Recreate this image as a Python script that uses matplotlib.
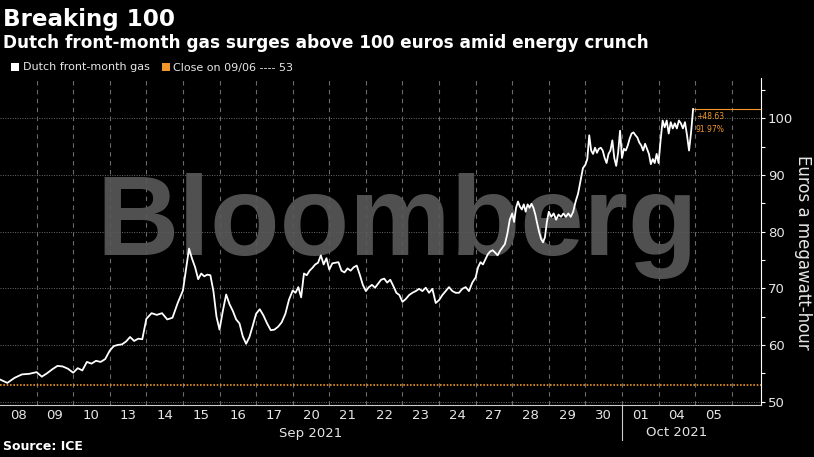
import matplotlib
matplotlib.use('Agg')
import matplotlib.pyplot as plt
import matplotlib.transforms as mtransforms
from matplotlib.patches import Patch
from matplotlib.ticker import MultipleLocator

W, H, DPI = 814, 457, 100

ORANGE = '#f0962a'
GRID = '#6a6a6a'
TXT = '#e6e6e6'

title = 'Breaking 100'
subtitle = 'Dutch front-month gas surges above 100 euros amid energy crunch'
source = 'Source: ICE'
series_name = 'Dutch front-month gas'
y_label = 'Euros a megawatt-hour'

day_labels = ['08', '09', '10', '13', '14', '15', '16', '17', '20', '21',
              '22', '23', '24', '27', '28', '29', '30', '01', '04', '05']
month_labels = ['Sep 2021', 'Oct 2021']
month_start = [0, 17]     # index of first trading day of each month
month_end = [17, 20]

prev_close = 53
prev_close_date = '09/06'
change_abs = '+48.63'
change_pct = '91.97%'

# intraday prices, one list per trading day (euros/MWh)
prices = [
    [53.9, 53.3, 54.2, 54.8, 54.9],
    [55.2, 54.4, 55.0, 55.7, 56.3, 56.2, 55.8],
    [55.1, 55.9, 55.5, 57.0, 56.7, 57.2, 57.0, 57.5],
    [59.0, 59.8, 60.0, 60.1, 60.6, 61.4, 60.7, 61.1, 61.0],
    [64.6, 65.6, 65.3, 65.6, 64.5, 64.8, 67.4],
    [69.6, 73.3, 77.0, 75.2, 73.7, 71.6, 72.6, 72.1, 72.4, 72.3, 69.5, 65.0],
    [62.7, 66.0, 68.9, 67.2, 66.0, 64.5, 63.8, 61.5, 60.2, 61.4, 63.4],
    [65.5, 66.3, 65.2, 63.8, 62.6, 62.7, 63.2, 64.0, 65.5, 68.0],
    [69.6, 69.2, 70.2, 68.4, 72.6, 72.3, 73.1, 73.6, 74.2, 74.5, 75.8, 74.2, 75.3],
    [73.3, 74.4, 74.5, 74.6, 73.1, 72.8, 73.5, 73.1, 73.7, 74.0, 72.4, 70.6],
    [69.5, 70.2, 70.6, 70.1, 70.8, 71.5, 71.7, 71.0, 71.5, 70.4, 69.2, 68.8],
    [67.6, 68.1, 68.8, 69.2, 69.5, 69.9, 69.5, 70.1, 69.2, 69.9, 67.4],
    [67.9, 68.8, 69.5, 70.2, 69.5, 69.2, 69.2, 69.9, 70.2, 69.5, 71.0],
    [71.9, 73.7, 74.6, 74.2, 75.1, 76.0, 76.5, 76.7, 76.3, 75.8, 76.6, 77.2,
     77.8, 79.6, 82.1],
    [83.2, 81.7, 84.2, 85.3, 84.4, 83.9, 84.8, 83.5, 84.8, 84.2, 84.9, 84.2,
     83.0, 81.4, 79.9, 78.7, 78.1, 79.0, 81.7],
    [83.5, 82.6, 83.2, 82.1, 83.0, 82.6, 83.2, 82.6, 83.2, 82.6, 83.5, 85.3,
     86.7, 88.9, 91.2],
    [91.8, 92.8, 97.0, 94.3, 93.7, 94.8, 93.9, 94.6, 94.8, 94.3, 93.0, 92.1,
     93.7, 94.3, 96.1, 93.0, 91.6, 93.9, 97.8],
    [93.0, 94.6, 94.3, 95.2, 96.4, 97.3, 97.5, 97.0, 96.6, 95.7, 95.2, 94.3,
     95.5, 94.6, 93.7, 91.9, 92.8, 92.1, 93.7],
    [92.1, 96.1, 99.6, 98.4, 99.6, 97.3, 99.3, 98.2, 99.1, 98.2, 99.6, 99.1,
     98.2, 99.3, 97.0, 94.3, 97.5, 101.63],
]

# place each day's observations evenly across its session
t, p = [], []
for i, day in enumerate(prices):
    for k, v in enumerate(day):
        t.append(i + k / len(day))
        p.append(v)

fig = plt.figure(figsize=(W / DPI, H / DPI), dpi=DPI, facecolor='black')
ax = fig.add_axes([0, 52 / H, 761 / W, 327 / H], facecolor='black')

XMAX = 20.8
ax.set_xlim(0, XMAX)
ax.set_ylim(49.4, 107.1)

# watermark: over the grid, under the price line
ax.text(397 / W, 1 - 255 / H, 'Bloomberg', color='#585858', alpha=0.92,
        fontsize=82, fontweight='bold', family='Liberation Sans',
        ha='center', va='baseline', transform=fig.transFigure, zorder=1.5)

# grid
for yv in range(50, 101, 10):
    ax.axhline(yv, color=GRID, lw=0.7, ls=(0, (1, 1.5)), zorder=1)
for xv in range(1, len(day_labels) + 1):
    ax.axvline(xv, color=GRID, lw=0.8, ls=(0, (4, 4)), zorder=1)

# previous close reference
ax.axhline(prev_close, color=ORANGE, lw=1.2, ls=(0, (1, 1)), zorder=2)

ax.plot(t, p, color='white', lw=1.3, zorder=4)

# last value marker line + change annotation
ax.axhline(p[-1], xmin=t[-1] / XMAX, xmax=1, color=ORANGE, lw=0.8, zorder=3)
ax.annotate(change_abs, xy=(t[-1], p[-1]), xytext=(2, -2.5),
            textcoords='offset points', color=ORANGE, fontsize=5.5,
            ha='left', va='top', zorder=5)
ax.annotate(change_pct, xy=(t[-1], p[-1]), xytext=(2, -11.5),
            textcoords='offset points', color=ORANGE, fontsize=5.5,
            ha='left', va='top', zorder=5)

# axes styling
for s in ['left', 'top']:
    ax.spines[s].set_visible(False)
ax.spines['right'].set_color('white')
ax.spines['bottom'].set_color('#cccccc')

ax.yaxis.tick_right()
ax.yaxis.set_major_locator(MultipleLocator(10))
ax.yaxis.set_minor_locator(MultipleLocator(5))
ax.tick_params(axis='y', which='both', colors='white', labelcolor=TXT,
               labelsize=9.5, length=3, width=0.8, pad=2)

ax.set_xticks([i + 0.5 for i in range(len(day_labels))])
ax.set_xticklabels(day_labels)
ax.tick_params(axis='x', length=0, labelcolor=TXT, labelsize=9.5, pad=3)

trans = mtransforms.blended_transform_factory(ax.transData, ax.transAxes)
for lab, a, b in zip(month_labels, month_start, month_end):
    ax.text((a + b) / 2, -28 / 327, lab, transform=trans, color=TXT,
            fontsize=9.5, ha='center', va='center')
for a in month_start[1:]:
    ax.plot([a, a], [0, -35 / 327], transform=trans, color='#cccccc',
            lw=0.8, clip_on=False)

fig.text(803 / W, 1 - 252 / H, y_label, color=TXT, fontsize=12,
         rotation=270, ha='center', va='center')

# titles
fig.text(3 / W, 1 - 26 / H, title, color='white', fontsize=16.6,
         fontweight='bold', va='baseline')
fig.text(3 / W, 1 - 48 / H, subtitle, color='white', fontsize=12.2,
         fontweight='bold', va='baseline')
fig.text(3 / W, 1 - 447 / H, source, color='white', fontsize=9,
         fontweight='bold', va='center')

# legend
handles = [Patch(facecolor='white', edgecolor='none'),
           Patch(facecolor=ORANGE, edgecolor='none')]
labels = [series_name, f'Close on {prev_close_date} ---- {prev_close}']
fig.legend(handles, labels, loc='center left',
           bbox_to_anchor=(11 / W, 1 - 67.5 / H), ncol=2, frameon=False,
           fontsize=8, labelcolor=TXT, handlelength=0.75, handleheight=0.75,
           handletextpad=0.3, columnspacing=1.1, borderpad=0,
           borderaxespad=0)

fig.savefig('out.png', dpi=DPI, facecolor='black')
